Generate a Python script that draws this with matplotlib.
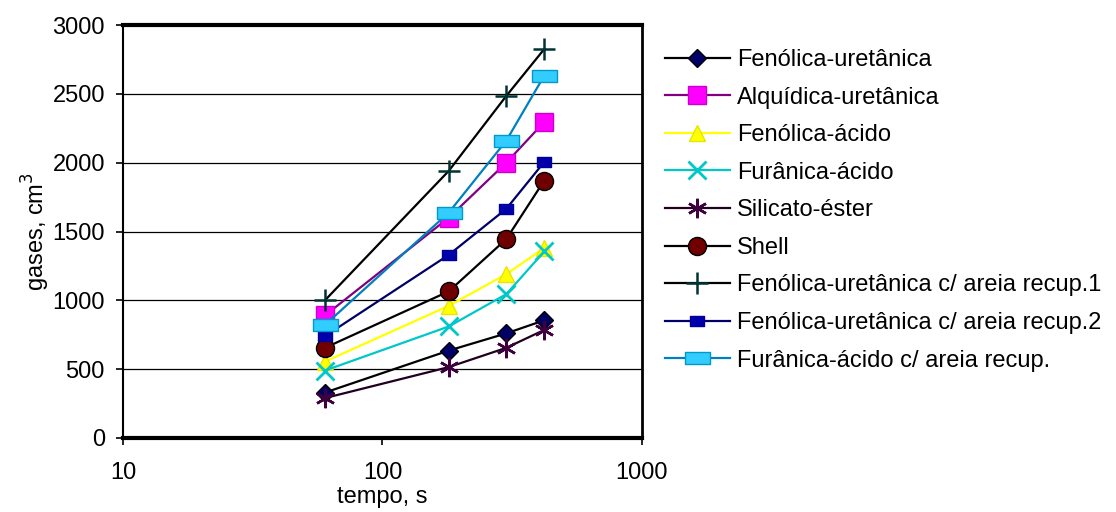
import matplotlib
matplotlib.use("Agg")
import matplotlib.pyplot as plt
from matplotlib.path import Path
import numpy as np

plt.rcParams['font.family'] = ['Liberation Sans', 'DejaVu Sans']

tempo = [60, 180, 300, 420]
fenolica_uretanica = [330, 635, 760, 855]
alquidica_uretanica = [890, 1600, 2000, 2295]
fenolica_acido = [555, 960, 1190, 1380]
furanica_acido = [490, 810, 1045, 1355]
silicato_ester = [290, 515, 655, 785]
shell = [655, 1065, 1445, 1870]
fu_recup1 = [1000, 1940, 2485, 2825]
fu_recup2 = [740, 1330, 1665, 2005]
fa_recup = [821, 1637, 2160, 2632]

labels = ["Fenólica-uretânica", "Alquídica-uretânica", "Fenólica-ácido",
          "Furânica-ácido", "Silicato-éster", "Shell",
          "Fenólica-uretânica c/ areia recup.1",
          "Fenólica-uretânica c/ areia recup.2",
          "Furânica-ácido c/ areia recup."]
yticks = [0, 500, 1000, 1500, 2000, 2500, 3000]
xticks = [10, 100, 1000]

wide_rect = Path([(-1, -0.45), (1, -0.45), (1, 0.45), (-1, 0.45), (-1, -0.45)],
                 [Path.MOVETO, Path.LINETO, Path.LINETO, Path.LINETO, Path.CLOSEPOLY])
small_rect = Path([(-1, -0.7), (1, -0.7), (1, 0.7), (-1, 0.7), (-1, -0.7)],
                  [Path.MOVETO, Path.LINETO, Path.LINETO, Path.LINETO, Path.CLOSEPOLY])

styles = [
    dict(color='black', marker='D', ms=9, mfc='#000066', mec='black', mew=1),
    dict(color='#800080', marker='s', ms=13, mfc='#FF00FF', mec='#CC00CC', mew=1),
    dict(color='#FFFF00', marker='^', ms=12, mfc='#FFFF00', mec='#E6E600', mew=1),
    dict(color='#00C8C8', marker='x', ms=13, mfc='#00C8C8', mec='#00C8C8', mew=2),
    dict(color='#200020', marker=(6, 2, 0), ms=14, mfc='#400040', mec='#400040', mew=1.8),
    dict(color='black', marker='o', ms=13, mfc='#700000', mec='black', mew=1),
    dict(color='black', marker='+', ms=16, mfc='#003333', mec='#003333', mew=1.8),
    dict(color='#000066', marker=small_rect, ms=10, mfc='#0000AA', mec='#000099', mew=1),
    dict(color='#0080C0', marker=wide_rect, ms=18, mfc='#33CCFF', mec='#0099CC', mew=1),
]
series = [fenolica_uretanica, alquidica_uretanica, fenolica_acido, furanica_acido,
          silicato_ester, shell, fu_recup1, fu_recup2, fa_recup]

fig = plt.figure(figsize=(11.16, 5.12), dpi=100)
ax = fig.add_axes([123/1116, 1-438/512, (642-123)/1116, (438-25)/512])
ax.set_xscale('log')
ax.set_xlim(10, 1000)
ax.set_ylim(0, 3000)

handles = []
for ys, lab, st in zip(series, labels, styles):
    h, = ax.plot(tempo, ys, lw=1.6, label=lab, **st)
    handles.append(h)

for g in yticks[1:-1]:
    ax.axhline(g, color='black', lw=0.9, zorder=0)

ax.set_yticks(yticks)
ax.set_xticks(xticks)
ax.set_xticklabels([str(t) for t in xticks])
ax.xaxis.set_minor_locator(matplotlib.ticker.NullLocator())
ax.tick_params(axis='both', labelsize=17, direction='out', length=5, width=1.2)
ax.tick_params(axis='x', pad=12)
ax.tick_params(axis='y', pad=8)

ax.spines['top'].set_linewidth(3)
ax.spines['bottom'].set_linewidth(3)
ax.spines['left'].set_linewidth(1.5)
ax.spines['right'].set_linewidth(2)

ax.set_xlabel("tempo, s", fontsize=17, labelpad=2)
ax.set_ylabel("gases, cm$^3$", fontsize=17, labelpad=0)

fig.legend(handles=handles, labels=labels, loc='upper left',
           bbox_to_anchor=(665/1116, 1-49/512), frameon=False, fontsize=17,
           handlelength=2.75, handletextpad=0.3, labelspacing=0.66,
           borderpad=0, borderaxespad=0)

fig.savefig("out.png", dpi=100)
